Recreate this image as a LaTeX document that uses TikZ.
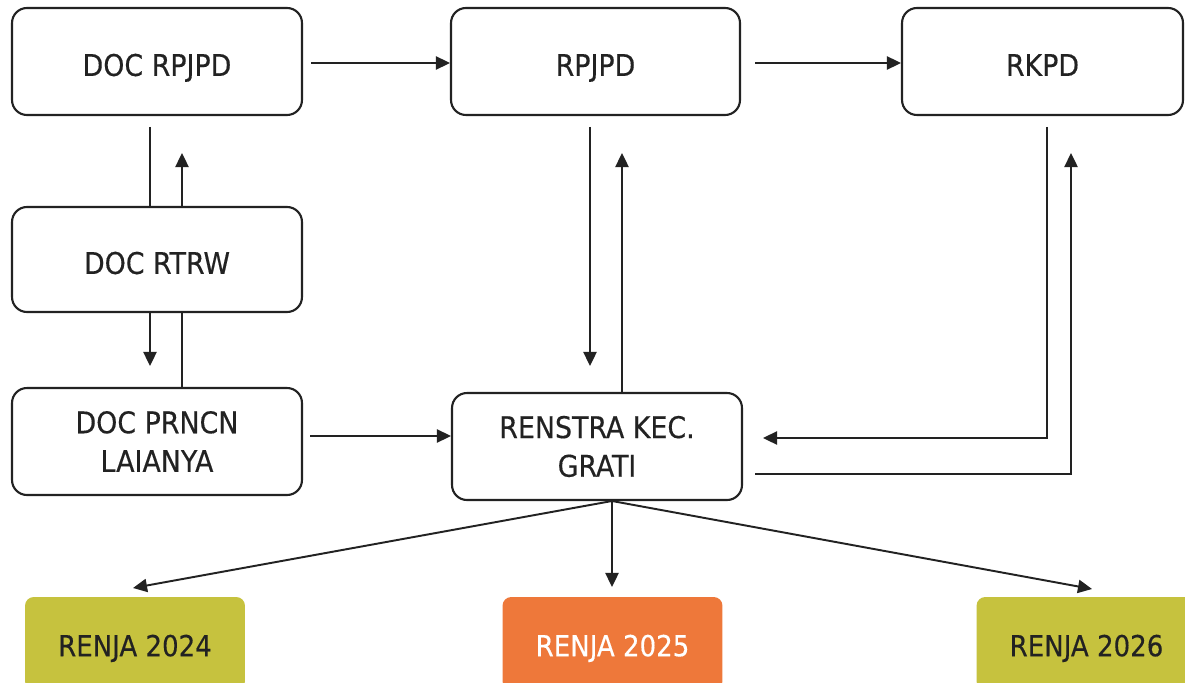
\documentclass[tikz,border=0pt]{standalone}
\usepackage{fontspec}
\setmainfont{DejaVu Sans Condensed}[BoldFont=*, BoldFeatures={FakeBold=0.35}]
\usetikzlibrary{arrows.meta}
\definecolor{olive}{HTML}{C6C23E}
\definecolor{orng}{HTML}{EE783A}
\definecolor{ink}{HTML}{222222}
\tikzset{
  box/.style={draw=ink, line width=1.2pt, rounded corners=8.5pt, fill=white,
    align=center, font=\fontsize{17}{22}\selectfont\bfseries, text=ink, inner sep=0pt},
  one/.style={text height=16.4pt, text depth=0pt},
  renja/.style={rounded corners=5pt, align=center, text height=14.5pt, text depth=0pt,
    font=\fontsize{16.5}{22}\selectfont\bfseries, inner sep=0pt, minimum width=4.4cm, minimum height=1.86cm},
  conn/.style={draw=ink, line width=1.1pt},
  arr/.style={conn, -{Triangle[length=8pt,width=7.5pt]}},
}
\begin{document}
\begin{tikzpicture}[x=0.02cm, y=-0.02cm]
\clip (0,0) rectangle (1185,682);
\fill[white] (0,0) rectangle (1185,682);
% boxes
\node[box, one, minimum width=5.8cm, minimum height=2.14cm] (docrpjpd) at (157,61.5) {DOC RPJPD};
\node[box, one, minimum width=5.78cm, minimum height=2.14cm] (rpjpd) at (595.5,61.5) {RPJPD};
\node[box, one, minimum width=5.62cm, minimum height=2.14cm] (rkpd) at (1042.5,61.5) {RKPD};
\node[box, one, minimum width=5.8cm, minimum height=2.1cm] (rtrw) at (157,259.5) {DOC RTRW};
\node[box, minimum width=5.8cm, minimum height=2.14cm] (prncn) at (157,441.5) {DOC PRNCN\\LAIANYA};
\node[box, minimum width=5.8cm, minimum height=2.14cm] (renstra) at (597,446.5) {RENSTRA KEC.\\GRATI};
\node[renja, fill=olive, text=ink] (r24) at (135,643.5) {RENJA 2024};
\node[renja, fill=orng, text=white] (r25) at (612.5,643.5) {RENJA 2025};
\node[renja, fill=olive, text=ink] (r26) at (1086.5,643.5) {RENJA 2026};
% top row arrows
\coordinate (h1) at (311,63);
\draw[arr] (h1) -- (h1 -| rpjpd.west);
\coordinate (h2) at (755,63);
\draw[arr] (h2) -- (h2 -| rkpd.west);
% left column
\coordinate (v1) at (150,127);
\draw[conn] (v1) -- (v1 |- rtrw.north);
\coordinate (v2) at (182,153);
\draw[arr] (v2 |- rtrw.north) -- (v2);
\coordinate (v3) at (150,366);
\draw[arr] (v3 |- rtrw.south) -- (v3);
\coordinate (v4) at (182,300);
\draw[conn] (v4 |- rtrw.south) -- (v4 |- prncn.north);
% prncn -> renstra
\coordinate (h3) at (310,436);
\draw[arr] (h3) -- (h3 -| renstra.west);
% rpjpd <-> renstra
\coordinate (m1) at (590,127);
\coordinate (m1e) at (590,366);
\draw[arr] (m1) -- (m1e);
\coordinate (m2) at (622,153);
\draw[arr] (m2 |- renstra.north) -- (m2);
% rkpd loop
\coordinate (k1) at (1047,127);
\coordinate (k1c) at (1047,438);
\coordinate (k1e) at (763,438);
\draw[arr] (k1) -- (k1c) -- (k1e);
\coordinate (k2s) at (755,474);
\coordinate (k2c) at (1071,474);
\coordinate (k2e) at (1071,153);
\draw[arr] (k2s) -- (k2c) -- (k2e);
% renstra -> renja
\coordinate (o) at (612,501);
\coordinate (t24) at (133,588);
\coordinate (t25) at (612,587);
\coordinate (t26) at (1092,589);
\draw[arr] (o) -- (t24);
\draw[arr] (o) -- (t25);
\draw[arr] (o) -- (t26);
\end{tikzpicture}
\end{document}
